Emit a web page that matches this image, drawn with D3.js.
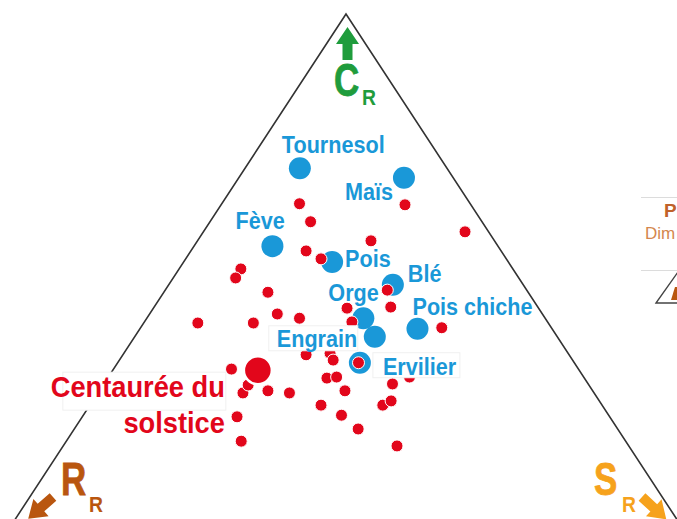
<!DOCTYPE html>
<html>
<head>
<meta charset="utf-8">
<script src="https://cdn.jsdelivr.net/npm/d3@7/dist/d3.min.js"></script>
<style>
  html, body { margin: 0; padding: 0; background: #fff; }
  svg { display: block; font-family: 'Liberation Sans', Arial, sans-serif; font-weight: bold; }
</style>
</head>
<body>
<div id="chart"></div>
<script>
// CSR strategies (Grime), in percent: C = competitor, R = ruderal, S = stress tolerant
const cropNames = ['Tournesol', 'Maïs', 'Fève', 'Pois', 'Blé', 'Orge', 'Pois chiche', 'Engrain', 'Ervilier'];
const cropC = [70.9, 69.1, 56.2, 53.2, 48.9, 42.6, 40.6, 39.1, 34.2];
const cropR = [21.2, 7.1, 32.5, 25.4, 18.8, 26.2, 19.4, 26.3, 30.9];
const cropS = [7.9, 23.8, 11.3, 21.4, 32.3, 31.2, 40.0, 34.6, 34.9];

const weedC = [64.2, 60.8, 64.0, 58.9, 57.2, 55.3, 53.8, 51.9, 50.2, 47.5, 47.9, 44.7, 44.5, 41.9,
  40.8, 43.4, 42.6, 41.7, 41.7, 35.7, 36.0, 34.7, 34.2, 33.0, 31.3, 31.5, 31.5, 30.2, 28.5, 30.0,
  28.9, 28.5, 28.9, 26.2, 26.2, 27.0, 24.3, 21.7, 18.5, 24.0, 19.4];
const weedR = [24.6, 24.7, 9.5, 3.4, 17.8, 28.1, 26.7, 39.2, 40.8, 37.5, 20.1, 21.2, 27.6, 28.2,
  15.8, 38.2, 35.4, 50.5, 42.5, 37.9, 34.3, 34.5, 31.1, 50.0, 37.1, 35.6, 25.1, 28.2, 50.6, 49.1,
  46.8, 43.9, 35.7, 40.5, 31.6, 30.0, 38.5, 37.4, 33.4, 53.7, 55.4];
const weedS = [11.2, 14.5, 26.5, 37.7, 25.0, 16.6, 19.5, 8.9, 9.0, 15.0, 32.0, 34.1, 27.9, 29.9,
  43.4, 18.4, 22.0, 7.8, 15.8, 26.4, 29.7, 30.8, 34.7, 17.0, 31.6, 32.9, 43.4, 41.6, 20.9, 20.9,
  24.3, 27.6, 35.4, 33.3, 42.2, 43.0, 37.2, 40.9, 48.1, 22.3, 25.2];

const targetName = ['Centaurée du', 'solstice'];
const targetC = [32.8];
const targetR = [46.3];
const targetS = [20.9];

const axisLetters = ['C', 'R', 'S'];
const axisSub = 'R';

const width = 677;
const height = 519;

const blue = '#1a98d8';
const red = '#e2061b';
const green = '#1f9c3c';
const brown = '#b9560f';
const orange = '#f6a21c';

const svg = d3.select('#chart')
  .append('svg')
  .attr('width', width)
  .attr('height', height);

// Ternary mapping: x follows S - R, y follows C
const x = d3.scaleLinear().domain([-100, 100]).range([346 - 347, 346 + 347]);
const y = d3.scaleLinear().domain([0, 100]).range([544, 14]);
const pos = (c, r, s) => [x(s - r), y(c)];

const crops = cropNames.map((n, i) => ({name: n, p: pos(cropC[i], cropR[i], cropS[i])}));
const weeds = weedC.map((c, i) => pos(c, weedR[i], weedS[i]));
const target = pos(targetC[0], targetR[0], targetS[0]);

// triangle frame
const vertices = [[x(0), y(100)], [x(-100), y(0)], [x(100), y(0)]];
svg.append('path')
  .attr('d', d3.line()(vertices) + 'Z')
  .attr('fill', 'none')
  .attr('stroke', '#333')
  .attr('stroke-width', 1.6);

// blue crop dots
svg.append('g').selectAll('circle')
  .data(crops)
  .join('circle')
  .attr('cx', d => d.p[0])
  .attr('cy', d => d.p[1])
  .attr('r', 11)
  .attr('fill', blue);

// red weed dots
svg.append('g').selectAll('circle')
  .data(weeds)
  .join('circle')
  .attr('cx', d => d[0])
  .attr('cy', d => d[1])
  .attr('r', 6)
  .attr('fill', red)
  .attr('stroke', '#fff')
  .attr('stroke-width', 1);

// Centaurée du solstice
svg.append('circle')
  .attr('cx', target[0])
  .attr('cy', target[1])
  .attr('r', 14)
  .attr('fill', red)
  .attr('stroke', '#fff')
  .attr('stroke-width', 2.5);

// label boxes (white backgrounds with faint border)
function labelBox(x0, y0, w, h) {
  svg.append('rect')
    .attr('x', x0).attr('y', y0)
    .attr('width', w).attr('height', h)
    .attr('fill', '#fff')
    .attr('stroke', '#f0f0f0')
    .attr('stroke-width', 1);
}
labelBox(target[0] - 195, target[1] + 2, 163, 38);
labelBox(crops[7].p[0] - 106, crops[7].p[1] - 11, 89, 25);
labelBox(crops[8].p[0] + 13, crops[8].p[1] - 10, 87, 25);

function addText(txt, tx, ty, size, color, sx, anchor = 'start') {
  return svg.append('text')
    .attr('transform', 'translate(' + tx + ',' + ty + ') scale(' + sx + ',1)')
    .attr('text-anchor', anchor)
    .attr('font-size', size)
    .attr('fill', color)
    .text(txt);
}

// label offsets from each dot
const labelOffsets = {
  'Tournesol': [-18, -15],
  'Maïs': [-59, 22],
  'Fève': [-37, -17],
  'Pois': [13, 5],
  'Blé': [15, -3],
  'Orge': [-35, -17],
  'Pois chiche': [-5, -14],
  'Engrain': [-98, 10],
  'Ervilier': [23, 12]
};
crops.forEach(d => {
  const o = labelOffsets[d.name];
  addText(d.name, d.p[0] + o[0], d.p[1] + o[1], 24, blue, 0.9);
});

addText(targetName[0], target[0] - 33, target[1] + 27, 29, red, 0.94, 'end');
addText(targetName[1], target[0] - 33, target[1] + 63, 29, red, 0.94, 'end');

// corner arrows (pointing toward the vertices)
const arrowPath = 'M0,-5L16,-5L16,-11.5L33,0L16,11.5L16,5L0,5Z';
function addArrow(ax, ay, angle, color) {
  svg.append('path')
    .attr('d', arrowPath)
    .attr('transform', 'translate(' + ax + ',' + ay + ') rotate(' + angle + ')')
    .attr('fill', color);
}
addArrow(347.5, 60, -90, green);
addArrow(53, 497, 138.7, brown);
addArrow(642, 497, 42.6, orange);

// axis letters with subscript
function axisLabel(letter, lx, ly, color, subDy) {
  addText(letter, lx, ly, 46, color, 0.76)
    .attr('stroke', color).attr('stroke-width', 0.8);
  addText(axisSub, lx + 28, ly + subDy, 22, color, 0.88);
}
axisLabel(axisLetters[0], 334, 96, green, 9);
axisLabel(axisLetters[1], 61, 495, brown, 17);
axisLabel(axisLetters[2], 594, 495, orange, 17);

// clipped legend panel at the right edge
const legend = svg.append('g');
legend.append('line').attr('x1', 641).attr('x2', width).attr('y1', 197.5).attr('y2', 197.5)
  .attr('stroke', '#dcdcdc');
legend.append('line').attr('x1', 641).attr('x2', width).attr('y1', 270.5).attr('y2', 270.5)
  .attr('stroke', '#dcdcdc');
legend.append('text').attr('x', 664).attr('y', 217).attr('font-size', 19)
  .attr('fill', '#c0622a').text('P');
legend.append('text').attr('x', 645).attr('y', 239).attr('font-size', 17)
  .attr('font-weight', 'normal').attr('fill', '#d4874e').text('Dim');
legend.append('path').attr('d', 'M656,303L678,272L700,303Z')
  .attr('fill', 'none').attr('stroke', '#444').attr('stroke-width', 1.3);
legend.append('path').attr('d', 'M671,300L675,287L680,287L680,300Z')
  .attr('fill', brown);
</script>
</body>
</html>
